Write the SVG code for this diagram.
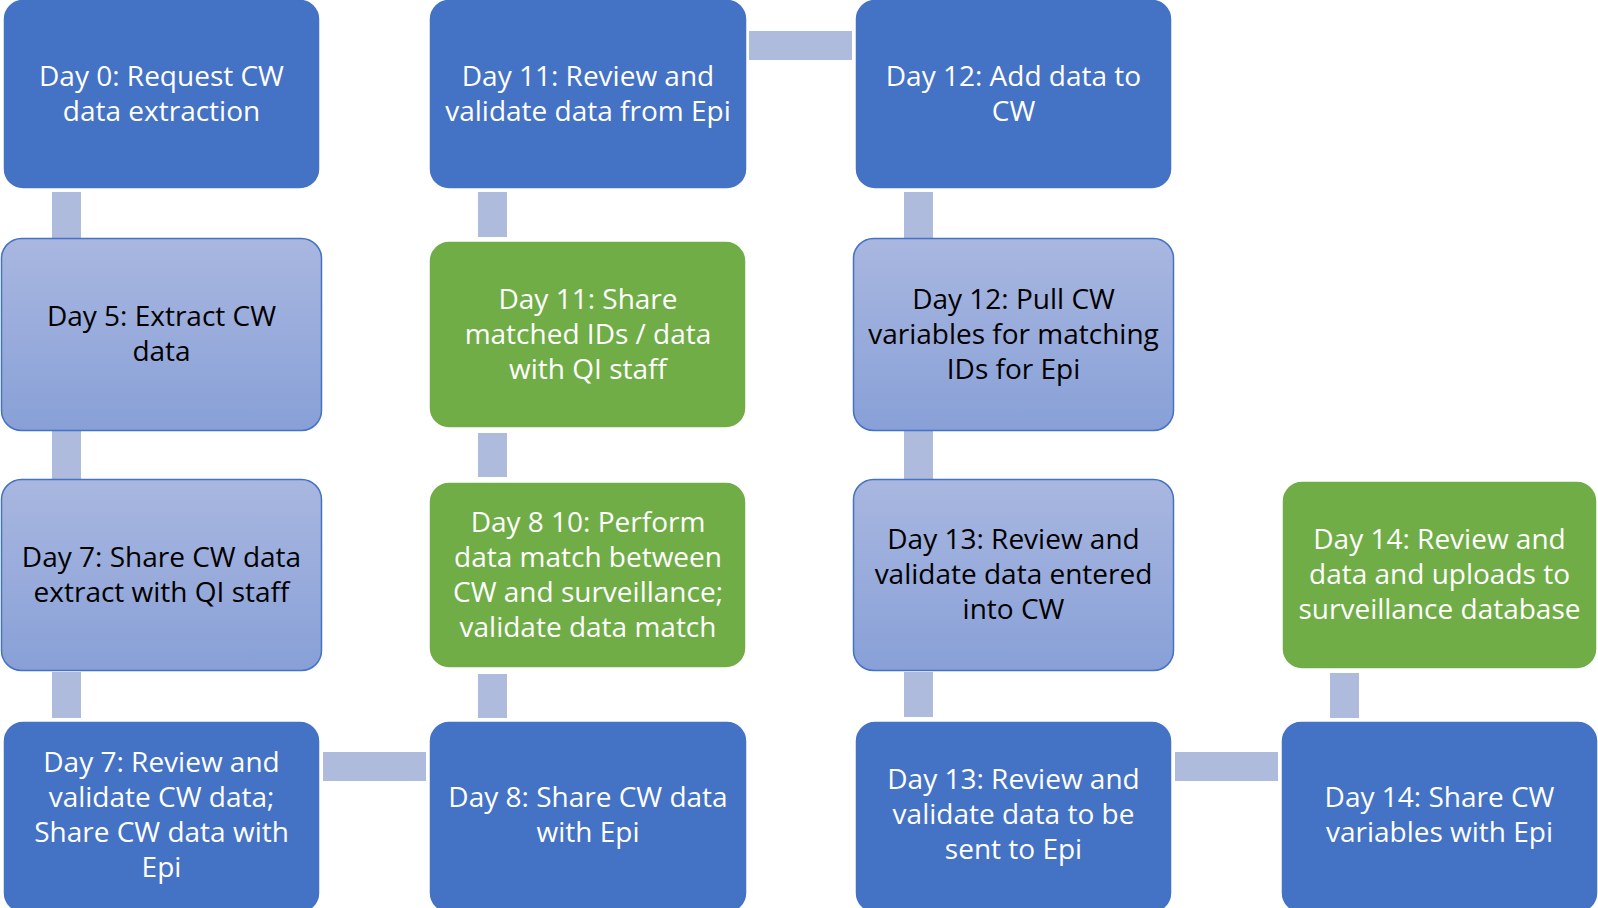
<svg xmlns="http://www.w3.org/2000/svg" width="1598" height="908" viewBox="0 0 1598 908">
  <defs>
    <linearGradient id="lightGrad" x1="0" y1="0" x2="0" y2="1">
      <stop offset="0" stop-color="#A9B7E0"/>
      <stop offset="1" stop-color="#88A0D7"/>
    </linearGradient>
    <style>
      .dark { fill: #4472C4; stroke: #FFFFFF; stroke-width: 1.5; }
      .green { fill: #70AD47; stroke: #FFFFFF; stroke-width: 1.5; }
      .light { fill: url(#lightGrad); stroke: #4472C4; stroke-width: 1.5; }
      .conn { fill: #AFBBDD; }
      text { font-family: "Open Sans", "Noto Sans", "Liberation Sans", sans-serif; font-size: 28px; text-anchor: middle; }
      .wt { fill: #FFFFFF; }
      .bt { fill: #000000; }
    </style>
  </defs>
  <rect width="1598" height="908" fill="#FFFFFF"/>

  <g id="connectors">
    <rect class="conn" x="52" y="192" width="29" height="46"/>
    <rect class="conn" x="52" y="431" width="29" height="48"/>
    <rect class="conn" x="52" y="672" width="29" height="46"/>
    <rect class="conn" x="323" y="752" width="103" height="29"/>
    <rect class="conn" x="478" y="674" width="29" height="44"/>
    <rect class="conn" x="478" y="433" width="29" height="44"/>
    <rect class="conn" x="478" y="192" width="29" height="45"/>
    <rect class="conn" x="749" y="31" width="103" height="29"/>
    <rect class="conn" x="904" y="192" width="29" height="46"/>
    <rect class="conn" x="904" y="431" width="29" height="48"/>
    <rect class="conn" x="904" y="672" width="29" height="45"/>
    <rect class="conn" x="1175" y="752" width="103" height="29"/>
    <rect class="conn" x="1330" y="673" width="29" height="45"/>
  </g>

  <g id="n-day0">
    <rect class="dark" x="3" y="-1" width="317" height="190" rx="20"/>
    <text class="wt" x="161.5" y="86">Day 0: Request CW</text>
    <text class="wt" x="161.5" y="121">data extraction</text>
  </g>
  <g id="n-day5">
    <rect class="light" x="1.5" y="238.5" width="320" height="192" rx="20"/>
    <text class="bt" x="161.5" y="326">Day 5: Extract CW</text>
    <text class="bt" x="161.5" y="361">data</text>
  </g>
  <g id="n-day7-share">
    <rect class="light" x="1.5" y="479.5" width="320" height="191" rx="20"/>
    <text class="bt" x="161.5" y="566.5">Day 7: Share CW data</text>
    <text class="bt" x="161.5" y="601.5">extract with QI staff</text>
  </g>
  <g id="n-day7-review">
    <rect class="dark" x="3" y="721" width="317" height="192" rx="20"/>
    <text class="wt" x="161.5" y="771.5">Day 7: Review and</text>
    <text class="wt" x="161.5" y="806.5">validate CW data;</text>
    <text class="wt" x="161.5" y="841.5">Share CW data with</text>
    <text class="wt" x="161.5" y="876.5">Epi</text>
  </g>
  <g id="n-day8-share">
    <rect class="dark" x="429" y="721" width="318" height="192" rx="20"/>
    <text class="wt" x="588" y="806.5">Day 8: Share CW data</text>
    <text class="wt" x="588" y="841.5">with Epi</text>
  </g>
  <g id="n-day8-10">
    <rect class="green" x="429" y="482" width="317" height="186" rx="20"/>
    <text class="wt" x="588" y="531.5">Day 8 10: Perform</text>
    <text class="wt" x="588" y="566.5">data match between</text>
    <text class="wt" x="588" y="601.5">CW and surveillance;</text>
    <text class="wt" x="588" y="636.5">validate data match</text>
  </g>
  <g id="n-day11-share">
    <rect class="green" x="429" y="241" width="317" height="187" rx="20"/>
    <text class="wt" x="588" y="308.5">Day 11: Share</text>
    <text class="wt" x="588" y="343.5">matched IDs / data</text>
    <text class="wt" x="588" y="378.5">with QI staff</text>
  </g>
  <g id="n-day11-review">
    <rect class="dark" x="429" y="-1" width="318" height="190" rx="20"/>
    <text class="wt" x="588" y="86">Day 11: Review and</text>
    <text class="wt" x="588" y="121">validate data from Epi</text>
  </g>
  <g id="n-day12-add">
    <rect class="dark" x="855" y="-1" width="317" height="190" rx="20"/>
    <text class="wt" x="1013.5" y="86">Day 12: Add data to</text>
    <text class="wt" x="1013.5" y="121">CW</text>
  </g>
  <g id="n-day12-pull">
    <rect class="light" x="853.5" y="238.5" width="320" height="192" rx="20"/>
    <text class="bt" x="1013.5" y="308.5">Day 12: Pull CW</text>
    <text class="bt" x="1013.5" y="343.5">variables for matching</text>
    <text class="bt" x="1013.5" y="378.5">IDs for Epi</text>
  </g>
  <g id="n-day13-review">
    <rect class="light" x="853.5" y="479.5" width="320" height="191" rx="20"/>
    <text class="bt" x="1013.5" y="549">Day 13: Review and</text>
    <text class="bt" x="1013.5" y="584">validate data entered</text>
    <text class="bt" x="1013.5" y="619">into CW</text>
  </g>
  <g id="n-day13-send">
    <rect class="dark" x="855" y="721" width="317" height="192" rx="20"/>
    <text class="wt" x="1013.5" y="789">Day 13: Review and</text>
    <text class="wt" x="1013.5" y="824">validate data to be</text>
    <text class="wt" x="1013.5" y="859">sent to Epi</text>
  </g>
  <g id="n-day14-share">
    <rect class="dark" x="1281" y="721" width="317" height="192" rx="20"/>
    <text class="wt" x="1439.5" y="806.5">Day 14: Share CW</text>
    <text class="wt" x="1439.5" y="841.5">variables with Epi</text>
  </g>
  <g id="n-day14-upload">
    <rect class="green" x="1282" y="481" width="315" height="188" rx="20"/>
    <text class="wt" x="1439.5" y="549">Day 14: Review and</text>
    <text class="wt" x="1439.5" y="584">data and uploads to</text>
    <text class="wt" x="1439.5" y="619">surveillance database</text>
  </g>
</svg>
